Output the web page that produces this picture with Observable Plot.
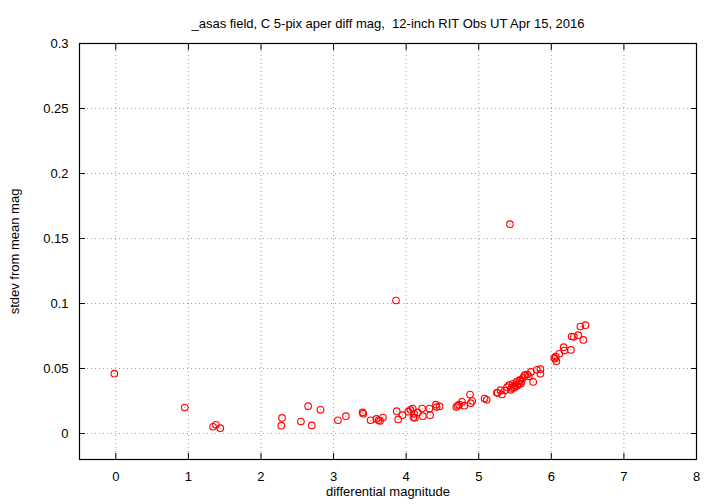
<!DOCTYPE html>
<html>
<head>
<meta charset="utf-8">
<script src="https://cdn.jsdelivr.net/npm/d3@7"></script>
<script src="https://cdn.jsdelivr.net/npm/@observablehq/plot@0.6"></script>
<style>
  html, body { margin: 0; padding: 0; background: #fff; }
  svg { display: block; }
</style>
</head>
<body>
<div id="chart"></div>
<script>
const titleText = "_asas field, C 5-pix aper diff mag,  12-inch RIT Obs UT Apr 15, 2016";
const xLabel = "differential magnitude";
const yLabel = "stdev from mean mag";
const xTicks = [0, 1, 2, 3, 4, 5, 6, 7, 8];
const yTicks = [0, 0.05, 0.1, 0.15, 0.2, 0.25, 0.3];

const diffMag = [
  -0.02, 0.95, 1.34, 1.38, 1.44, 2.28, 2.29, 2.55, 2.65, 2.70, 2.82,
  3.06, 3.17, 3.40, 3.41, 3.51, 3.59, 3.62, 3.64, 3.68, 3.86, 3.87, 3.89, 3.95,
  4.03, 4.06, 4.09, 4.10, 4.11, 4.12, 4.16, 4.22, 4.23, 4.32, 4.33, 4.41, 4.42, 4.46,
  4.69, 4.71, 4.73, 4.77, 4.80, 4.88, 4.89, 4.91, 5.08, 5.11,
  5.25, 5.26, 5.30, 5.32, 5.36, 5.39, 5.42, 5.44, 5.45, 5.47, 5.48, 5.49, 5.50,
  5.52, 5.53, 5.55, 5.56, 5.57, 5.58, 5.59, 5.61, 5.63, 5.64, 5.67, 5.69, 5.72,
  5.75, 5.80, 5.85, 5.85, 5.43,
  6.04, 6.05, 6.06, 6.07, 6.11, 6.17, 6.18, 6.27, 6.28, 6.31, 6.37, 6.44, 6.40, 6.47
];
const stdevMag = [
  0.046, 0.020, 0.0052, 0.0067, 0.0041, 0.0060, 0.0120, 0.0092, 0.0210, 0.0062, 0.0182,
  0.0102, 0.0133, 0.0162, 0.0151, 0.0102, 0.0112, 0.0101, 0.0097, 0.0123, 0.1023, 0.0172, 0.0108, 0.0141,
  0.0168, 0.0181, 0.0192, 0.0125, 0.0151, 0.0120, 0.0162, 0.0192, 0.0133, 0.0192, 0.0141, 0.0222, 0.0203, 0.0208,
  0.0203, 0.0214, 0.0222, 0.0244, 0.0214, 0.0300, 0.0233, 0.0250, 0.0269, 0.0259,
  0.0313, 0.0313, 0.0333, 0.0300, 0.0330, 0.0356, 0.0372, 0.0336, 0.0350, 0.0382, 0.0360, 0.0351, 0.0370,
  0.0397, 0.0367, 0.0380, 0.0408, 0.0410, 0.0382, 0.0400, 0.0428, 0.0448, 0.0450, 0.0454, 0.0440, 0.0474,
  0.0397, 0.0490, 0.0495, 0.0459, 0.161,
  0.0582, 0.0575, 0.0592, 0.0556, 0.0613, 0.0664, 0.0638, 0.0643, 0.0746, 0.0744, 0.0756, 0.0720, 0.0823, 0.0833
];

const data = diffMag.map((x, i) => ({x, y: stdevMag[i]}));
const fmtY = d => String(+d.toFixed(2));
const font = "'Liberation Sans', Arial, sans-serif";

const chart = Plot.plot({
  width: 720,
  height: 504,
  marginLeft: 79,
  marginRight: 24,
  marginTop: 43,
  marginBottom: 45,
  style: {fontFamily: font, fontSize: "13px", color: "#000", background: "#fff"},
  x: {domain: [-0.5, 8]},
  y: {domain: [-0.02, 0.3]},
  marks: [
    Plot.gridX(xTicks, {stroke: "#a0a0a0", strokeOpacity: 1, strokeDasharray: "1,3"}),
    Plot.gridY(yTicks, {stroke: "#a0a0a0", strokeOpacity: 1, strokeDasharray: "1,3"}),
    Plot.axisX(xTicks, {anchor: "bottom", tickSize: -6, tickPadding: 18, label: null, tickFormat: d => String(d), fontSize: 13}),
    Plot.axisX(xTicks, {anchor: "top", tickSize: -6, label: null, tickFormat: () => ""}),
    Plot.axisY(yTicks, {anchor: "left", tickSize: -6, tickPadding: 17, label: null, tickFormat: fmtY, fontSize: 13}),
    Plot.axisY(yTicks, {anchor: "right", tickSize: -6, label: null, tickFormat: () => ""}),
    Plot.frame({stroke: "#000", strokeWidth: 1.2}),
    Plot.dot(data, {x: "x", y: "y", r: 3.3, stroke: "#ff0000", strokeWidth: 1.1, fill: "none"}),
    Plot.dot(data, {x: "x", y: "y", r: 0.6, fill: "#ff0000", fillOpacity: 0.6, stroke: "none"}),
    Plot.text([titleText], {frameAnchor: "top", dy: -25, fontSize: 13}),
    Plot.text([xLabel], {frameAnchor: "bottom", dy: 36, fontSize: 13}),
    Plot.text([yLabel], {frameAnchor: "left", dx: -65, rotate: -90, textAnchor: "middle", fontSize: 13})
  ]
});
document.getElementById("chart").appendChild(chart);
</script>
</body>
</html>
